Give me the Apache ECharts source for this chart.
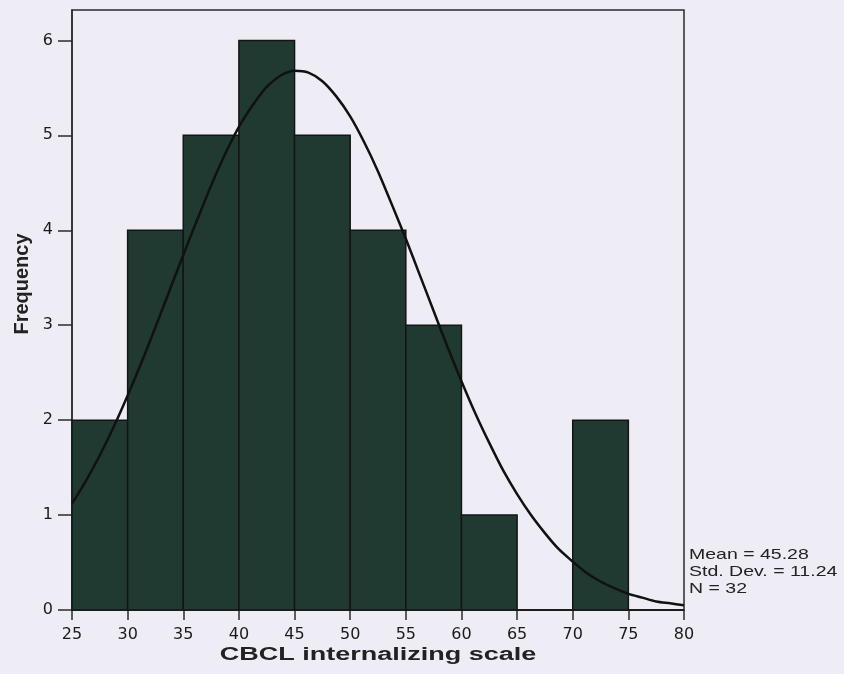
<!DOCTYPE html>
<html>
<head>
<meta charset="utf-8">
<script src="https://cdn.jsdelivr.net/npm/echarts@6/dist/echarts.min.js"></script>
<style>
  html, body { margin: 0; padding: 0; background: #eeedf5; }
  #draw { width: 844px; height: 674px; }
</style>
</head>
<body>
<div id="draw"></div>
<script>
  // histogram bins (lower edge), bin width 5
  var binStarts = [25, 30, 35, 40, 45, 50, 55, 60, 65, 70, 75]
  var counts = [2, 4, 5, 6, 5, 4, 3, 1, 0, 2, 0]
  var binWidth = 5
  // normal curve
  var curveX = [25, 26.25, 27.5, 28.75, 30, 31.25, 32.5, 33.75, 35, 36.25, 37.5, 38.75, 40, 41.25, 42.5, 43.75, 45, 46.25, 47.5, 48.75, 50, 51.25, 52.5, 53.75, 55, 56.25, 57.5, 58.75, 60, 61.25, 62.5, 63.75, 65, 66.25, 67.5, 68.75, 70, 71.25, 72.5, 73.75, 75, 76.25, 77.5, 78.75, 80]
  var curveY = [1.12, 1.36, 1.63, 1.93, 2.26, 2.61, 2.98, 3.36, 3.74, 4.11, 4.47, 4.8, 5.09, 5.32, 5.51, 5.63, 5.68, 5.66, 5.57, 5.41, 5.2, 4.93, 4.62, 4.27, 3.91, 3.53, 3.15, 2.77, 2.41, 2.07, 1.76, 1.47, 1.22, 1.0, 0.81, 0.64, 0.51, 0.39, 0.3, 0.23, 0.17, 0.13, 0.09, 0.07, 0.05]
  var xTicks = [25, 30, 35, 40, 45, 50, 55, 60, 65, 70, 75, 80]
  var yTicks = [0, 1, 2, 3, 4, 5, 6]
  var statsText = ['Mean = 45.28', 'Std. Dev. = 11.24', 'N = 32']

  var histData = []
  for (var i = 0; i < binStarts.length; i++) {
    histData.push([binStarts[i], binStarts[i] + binWidth, counts[i]])
  }
  var curveData = []
  for (var j = 0; j < curveX.length; j++) {
    curveData.push([curveX[j], curveY[j]])
  }

  var myChart = echarts.init(document.getElementById('draw'))
  myChart.setOption({
    backgroundColor: '#eeedf5',
    animation: false,
    grid: {
      left: 72,
      right: 160,
      top: 10,
      bottom: 64,
      show: true,
      borderColor: '#2b2b2b',
      borderWidth: 1.5,
      backgroundColor: 'transparent'
    },
    xAxis: {
      type: 'value',
      min: 25,
      max: 80,
      interval: 5,
      axisLine: { lineStyle: { color: '#2b2b2b', width: 1.5 } },
      axisTick: { show: true, length: 10, lineStyle: { color: '#2b2b2b', width: 1.5 }, customValues: xTicks },
      axisLabel: {
        customValues: xTicks,
        margin: 17,
        color: '#1a1a1a',
        fontSize: 16,
        fontFamily: 'DejaVu Sans'
      },
      splitLine: { show: false }
    },
    yAxis: {
      type: 'value',
      min: 0,
      max: 6.32,
      interval: 1,
      axisLine: { show: true, lineStyle: { color: '#2b2b2b', width: 1.5 } },
      axisTick: { show: true, length: 14, lineStyle: { color: '#2b2b2b', width: 1.5 }, customValues: yTicks },
      axisLabel: {
        customValues: yTicks,
        margin: 19,
        color: '#1a1a1a',
        fontSize: 16,
        fontFamily: 'DejaVu Sans'
      },
      splitLine: { show: false }
    },
    graphic: [
      {
        type: 'text',
        x: 378,
        y: 655,
        scaleX: 1.5,
        style: {
          text: 'CBCL internalizing scale',
          font: 'bold 18px "Liberation Sans", Arial',
          fill: '#222',
          align: 'center',
          verticalAlign: 'middle'
        }
      },
      {
        type: 'text',
        x: 22,
        y: 284,
        rotation: Math.PI / 2,
        style: {
          text: 'Frequency',
          font: 'bold 20px "Liberation Sans", Arial',
          fill: '#222',
          align: 'center',
          verticalAlign: 'middle'
        }
      },
      {
        type: 'text',
        x: 689,
        y: 546,
        scaleX: 1.3,
        style: {
          text: statsText.join('\n'),
          font: '15px "Liberation Sans", Arial',
          lineHeight: 17,
          fill: '#222'
        }
      }
    ],
    series: [
      {
        type: 'custom',
        renderItem: function (params, api) {
          var p0 = api.coord([api.value(0), 0])
          var p1 = api.coord([api.value(1), api.value(2)])
          return {
            type: 'rect',
            shape: { x: p0[0], y: p1[1], width: p1[0] - p0[0], height: p0[1] - p1[1] },
            style: { fill: '#203a31', stroke: '#141414', lineWidth: 1.5 }
          }
        },
        encode: { x: [0, 1], y: 2 },
        data: histData,
        z: 2
      },
      {
        type: 'line',
        smooth: 0.3,
        showSymbol: false,
        symbol: 'none',
        lineStyle: { color: '#111', width: 2.5 },
        data: curveData,
        z: 3
      }
    ]
  })
</script>
</body>
</html>
